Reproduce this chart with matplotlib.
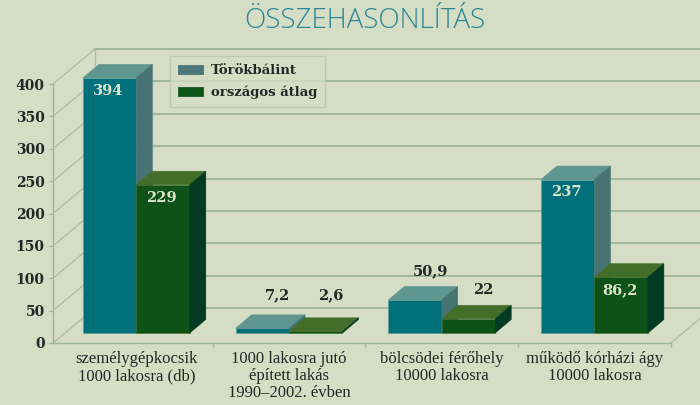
import matplotlib
matplotlib.use("Agg")
import matplotlib.pyplot as plt
from matplotlib.patches import Polygon, Patch

# ---------------- data ----------------
categories = [
    "személygépkocsik\n1000 lakosra (db)",
    "1000 lakosra jutó\népített lakás\n1990–2002. évben",
    "bölcsödei férőhely\n10000 lakosra",
    "működő kórházi ágy\n10000 lakosra",
]
series_names = ["Törökbálint", "országos átlag"]
torokbalint = [394, 7.2, 50.9, 237]
orszagos_atlag = [229, 2.6, 22, 86.2]
y_ticks = [0, 50, 100, 150, 200, 250, 300, 350, 400]
title = "ÖSSZEHASONLÍTÁS"

# ---------------- style ----------------
BG = "#d5dec5"
GRID = "#9db598"
WALL = "#a9bea5"
TXT = "#262626"
LIGHT_TXT = "#dde4cc"
front_cols = ["#00707a", "#0f5217"]
top_cols = ["#5f9690", "#426e2a"]
side_cols = ["#477473", "#033a22"]
legend_cols = ["#4a7878", "#0d561a"]

# geometry (data units)
px_per_cat = 152.7
px_per_val = 0.6475
x_left = (53 - 60) / px_per_cat
x_right = (700 - 60) / px_per_cat
y_top = 343 / px_per_val
DX = 42 / px_per_cat      # full depth of the floor
DY = 35 / px_per_val
BASE = 10 / px_per_val    # bars sit a bit back on the floor
BDX = 16 / px_per_cat     # bar depth
BDY = 13.5 / px_per_val
W = 0.35

fig = plt.figure(figsize=(7, 4.05), dpi=100)
fig.patch.set_facecolor(BG)
ax = fig.add_axes([53 / 700, 62 / 405, 647 / 700, 343 / 405])
ax.set_facecolor(BG)
ax.set_xlim(x_left, x_right)
ax.set_ylim(0, y_top)

# walls / floor
ax.plot([x_left + DX, x_left + DX], [DY, y_ticks[-1] + DY], color=WALL, lw=0.9, zorder=1)
for t in y_ticks:
    ax.plot([x_left, x_left + DX], [t, t + DY], color=WALL, lw=0.9, zorder=1)
    ax.plot([x_left + DX, x_right], [t + DY, t + DY], color=GRID, lw=1.3, zorder=1)
n = len(categories)
ax.plot([n, n + DX], [0, DY], color=WALL, lw=0.9, zorder=1)

# bars
for s, vals in enumerate([torokbalint, orszagos_atlag]):
    for i, v in enumerate(vals):
        x0 = i + 0.5 - W + s * W
        b = BASE
        top = b + v
        z = 3 + i * 2 + s * 0.5
        ax.bar(x0, v, width=W, bottom=b, align="edge", color=front_cols[s],
               edgecolor=top_cols[s], linewidth=0.4, zorder=z)
        ax.add_patch(Polygon([(x0, top), (x0 + W, top), (x0 + W + BDX, top + BDY),
                              (x0 + BDX, top + BDY)], closed=True,
                             facecolor=top_cols[s], edgecolor=top_cols[s], lw=0.4, zorder=z))
        ax.add_patch(Polygon([(x0 + W, b), (x0 + W, top), (x0 + W + BDX, top + BDY),
                              (x0 + W + BDX, b + BDY)], closed=True,
                             facecolor=side_cols[s], edgecolor=side_cols[s], lw=0.4, zorder=z))
        lab = f"{v:g}".replace(".", ",")
        if v > 80:
            ax.text(x0 + W / 2 - 0.01, top - 20, lab, ha="center", va="center",
                    color=LIGHT_TXT, fontsize=10.5, fontweight="bold",
                    family="DejaVu Serif", zorder=20)
        else:
            ly = max(top + BDY + 24, 74)
            ax.text(x0 + W / 2 + 0.1, ly, lab, ha="center", va="center",
                    color=TXT, fontsize=10.5, fontweight="bold",
                    family="DejaVu Serif", zorder=20)

# axes
for sp in ["top", "right"]:
    ax.spines[sp].set_visible(False)
ax.spines["left"].set_bounds(0, y_ticks[-1])
ax.spines["bottom"].set_bounds(x_left, n)
for sp in ["left", "bottom"]:
    ax.spines[sp].set_color(GRID)
    ax.spines[sp].set_linewidth(1.0)
ax.set_yticks(y_ticks)
ax.set_yticklabels([str(t) for t in y_ticks], fontsize=10, fontweight="bold",
                   family="DejaVu Serif", color=TXT)
ax.tick_params(axis="y", length=3, width=1, color=GRID, pad=3)
ax.set_xticks([i + 0.5 for i in range(n)])
ax.set_xticklabels(categories, fontsize=12, family="Liberation Serif",
                   color=TXT, linespacing=1.05)
ax.set_xticks(list(range(1, n + 1)), minor=True)
ax.tick_params(axis="x", which="major", length=0, pad=6)
ax.tick_params(axis="x", which="minor", length=3, width=1, color=GRID)

# legend
handles = [Patch(facecolor=legend_cols[k], edgecolor="#3f6a6a" if k == 0 else "#0a4614",
                 linewidth=0.5, label=series_names[k]) for k in range(2)]
leg = fig.legend(handles=handles, loc="upper left", bbox_to_anchor=(170 / 700, 1 - 56 / 405),
                 borderaxespad=0, frameon=True, fancybox=False, handlelength=1.9,
                 handleheight=0.7, handletextpad=0.6, labelspacing=0.65, borderpad=0.6,
                 prop={"family": "DejaVu Serif", "weight": "bold", "size": 9.5})
leg.get_frame().set_facecolor(BG)
leg.get_frame().set_edgecolor("#b5c6ad")
leg.get_frame().set_linewidth(1.0)
for t in leg.get_texts():
    t.set_color(TXT)

fig.text(365 / 700, 1 - 21 / 405, title, ha="center", va="center", fontsize=20,
         family="Open Sans", fontweight="light", color="#2a8797")

fig.savefig("out.png", dpi=100, facecolor=BG)
